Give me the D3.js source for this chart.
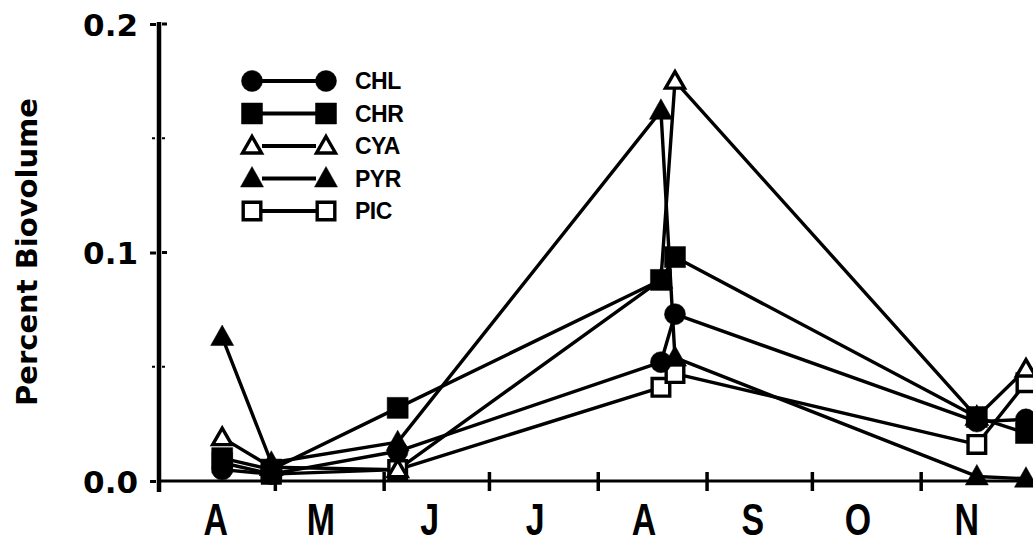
<!DOCTYPE html>
<html><head><meta charset="utf-8">
<script src="https://cdn.jsdelivr.net/npm/d3@7"></script>
<style>
html,body{margin:0;padding:0;background:#fff;}
svg{display:block;}
</style></head><body>
<svg id="chart" width="1033" height="545"></svg>
<script>
// Month initials under the axis (April .. November)
const months = ["A","M","J","J","A","S","O","N"];
// Sampling dates
const sampleDates = ["1985-04-16","1985-04-30","1985-06-05","1985-08-19","1985-08-23","1985-11-17","1985-12-01"];
// Percent biovolume per group at each sampling date
const chl = [0.005, 0.003, 0.013, 0.052, 0.073, 0.026, 0.027];
const chr = [0.010, 0.005, 0.032, 0.088, 0.098, 0.028, 0.021];
const cya = [0.019, 0.006, 0.005, 0.088, 0.175, 0.028, 0.049];
const pyr = [0.063, 0.008, 0.017, 0.162, 0.054, 0.002, 0.001];
const pic = [0.008, 0.003, 0.005, 0.041, 0.047, 0.016, 0.043];
const seriesNames = ["CHL","CHR","CYA","PYR","PIC"];
const yTickValues = [0, 0.1, 0.2];
const yMinorTicks = [0.05, 0.15];

const parse = d3.utcParse("%Y-%m-%d");
const dates = sampleDates.map(parse);

const series = [
  {name: "CHL", values: chl, shape: "circle",   filled: true},
  {name: "CHR", values: chr, shape: "square",   filled: true},
  {name: "CYA", values: cya, shape: "triangle", filled: false},
  {name: "PYR", values: pyr, shape: "triangle", filled: true},
  {name: "PIC", values: pic, shape: "square",   filled: false}
];
// stacking order of the markers (last drawn on top)
const drawOrder = ["PIC","CYA","CHL","PYR","CHR"];

const svg = d3.select("#chart");
const axisX0 = 159, axisY0 = 481;

const x = d3.scaleUtc()
  .domain([Date.UTC(1985,2,29), Date.UTC(1985,11,3)])
  .range([axisX0, 1033]);
const y = d3.scaleLinear().domain([0, 0.2]).range([axisY0, 24]);

// marker path generators
function markerPath(shape, filled) {
  if (shape === "circle") { const r = 10.5; return `M${-r},0A${r},${r} 0 1,0 ${r},0A${r},${r} 0 1,0 ${-r},0Z`; }
  if (shape === "square") { const h = filled ? 10.5 : 8.8; return `M${-h},${-h}H${h}V${h}H${-h}Z`; }
  // triangle
  if (filled) return "M0,-12L11.5,8.5L-11.5,8.5Z";
  return "M0,-9.5L9.5,7L-9.5,7Z";
}
function drawMarker(g, s, cx, cy) {
  g.append("path")
    .attr("d", markerPath(s.shape, s.filled))
    .attr("transform", `translate(${cx},${cy})`)
    .attr("fill", s.filled ? "#000" : "#fff")
    .attr("stroke", "#000")
    .attr("stroke-width", s.filled ? 0.5 : 3.4)
    .attr("stroke-linejoin", "miter");
}

// ---- axes ----
// x axis baseline
svg.append("line")
  .attr("x1", axisX0).attr("x2", 1033)
  .attr("y1", axisY0).attr("y2", axisY0)
  .attr("stroke", "#000").attr("stroke-width", 3.2);

const monthStarts = d3.utcMonth.range(new Date(Date.UTC(1985,4,1)), new Date(Date.UTC(1985,10,2)));
const xAxis = svg.append("g")
  .attr("transform", `translate(0,${axisY0})`)
  .call(d3.axisBottom(x).tickValues(monthStarts).tickSize(10).tickFormat(""));
xAxis.select(".domain").remove();
xAxis.selectAll(".tick line").attr("y1", -9).attr("stroke", "#000").attr("stroke-width", 3.5);

// month initials, centred on the middle of each month
const monthMids = d3.utcMonth.range(new Date(Date.UTC(1985,3,1)), new Date(Date.UTC(1985,11,1)))
  .map(d => d3.utcDay.offset(d, 13));
const xLabels = svg.append("g")
  .attr("transform", `translate(0,${axisY0})`)
  .call(d3.axisBottom(x).tickValues(monthMids).tickSize(0).tickPadding(0)
    .tickFormat((d, i) => months[i]));
xLabels.select(".domain").remove();
xLabels.selectAll(".tick text")
  .attr("y", 54).attr("dy", 0)
  .attr("transform", "scale(0.77,1)")
  .attr("fill", "#000")
  .style("font-family", "'Liberation Sans', Arial, sans-serif")
  .style("font-weight", "bold")
  .style("font-size", "44px");

// y axis
svg.append("line")
  .attr("x1", axisX0).attr("x2", axisX0)
  .attr("y1", y(0.2) - 2).attr("y2", axisY0 + 11)
  .attr("stroke", "#000").attr("stroke-width", 4.5);

const yAxis = svg.append("g")
  .attr("transform", `translate(${axisX0},0)`)
  .call(d3.axisLeft(y).tickValues(yTickValues).tickSize(9).tickPadding(12)
    .tickFormat(d3.format(".1f")));
yAxis.select(".domain").remove();
yAxis.selectAll(".tick line").attr("x1", -3).attr("stroke", "#000").attr("stroke-width", 3);
yAxis.selectAll(".tick text")
  .attr("fill", "#000")
  .attr("dy", "0.36em")
  .style("font-family", "'DejaVu Sans', sans-serif")
  .style("font-weight", "bold")
  .style("font-size", "31px");

// small ticks on the inner side and minor ticks
svg.append("g").selectAll("line").data([0.1, 0.2]).join("line")
  .attr("x1", axisX0 + 3).attr("x2", axisX0 + 8)
  .attr("y1", d => y(d)).attr("y2", d => y(d))
  .attr("stroke", "#000").attr("stroke-width", 3);
svg.append("g").selectAll("g").data(yMinorTicks).join("g").each(function(d) {
  const g = d3.select(this);
  g.append("line").attr("x1", axisX0 - 7).attr("x2", axisX0 - 4)
    .attr("y1", y(d)).attr("y2", y(d)).attr("stroke", "#000").attr("stroke-width", 2);
  g.append("line").attr("x1", axisX0 + 3).attr("x2", axisX0 + 6)
    .attr("y1", y(d)).attr("y2", y(d)).attr("stroke", "#000").attr("stroke-width", 2);
});

// y axis title
svg.append("text")
  .attr("transform", `translate(37,252) rotate(-90)`)
  .attr("text-anchor", "middle")
  .attr("fill", "#000")
  .style("font-family", "'DejaVu Sans', sans-serif")
  .style("font-weight", "bold")
  .style("font-size", "29px")
  .text("Percent Biovolume");

// ---- series ----
const line = d3.line()
  .x((d, i) => x(dates[i]))
  .y(d => y(d));

const plot = svg.append("g");
plot.selectAll("path.series").data(series).join("path")
  .attr("class", "series")
  .attr("d", s => line(s.values))
  .attr("fill", "none")
  .attr("stroke", "#000")
  .attr("stroke-width", 3.4)
  .attr("stroke-linejoin", "round");

drawOrder.forEach(name => {
  const s = series.find(d => d.name === name);
  const g = plot.append("g");
  s.values.forEach((v, i) => drawMarker(g, s, x(dates[i]), y(v)));
});

// ---- legend ----
const legendY = d3.scalePoint().domain(seriesNames).range([81, 211]);
const legend = svg.append("g");
seriesNames.forEach(name => {
  const s = series.find(d => d.name === name);
  const ly = legendY(name);
  const g = legend.append("g");
  g.append("line").attr("x1", 262).attr("x2", 316).attr("y1", ly).attr("y2", ly)
    .attr("stroke", "#000").attr("stroke-width", 4);
  drawMarker(g, s, 252, ly);
  drawMarker(g, s, 326, ly);
  g.append("text")
    .attr("x", 355).attr("y", ly).attr("dy", "0.36em")
    .attr("fill", "#000")
    .style("font-family", "'Liberation Sans', Arial, sans-serif")
    .style("font-weight", "bold")
    .style("font-size", "23px")
    .style("letter-spacing", "-0.5px")
    .text(name);
});
</script>
</body></html>
